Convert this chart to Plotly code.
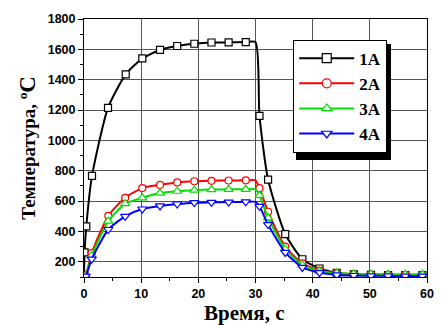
import plotly.graph_objects as go

# ---- data ----
t_1A = [0.1, 0.4, 1.4, 4.2, 7.3, 10.2, 13.3, 16.3, 19.3, 22.3, 25.3, 28.3,
        30.7, 32.2, 35.2, 38.2, 41.2, 44.2, 47.2, 50.2, 53.2, 56.2, 59.2]
T_1A = [262, 433, 766, 1215, 1435, 1540, 1596, 1622, 1637, 1645, 1646, 1648,
        1162, 742, 383, 217, 156, 128, 117, 114, 113, 112, 112]

t_n = [0.3, 1.35, 4.25, 7.2, 10.2, 13.3, 16.3, 19.3, 22.3, 25.3, 28.3,
       30.7, 32.2, 35.2, 38.2, 41.2, 44.2, 47.2, 50.2, 53.2, 56.2, 59.2]
T_2A = [110, 257, 503, 622, 686, 707, 723, 731, 734, 736, 737,
        685, 530, 300, 190, 142, 124, 117, 115, 114, 114, 114]
T_3A = [108, 240, 468, 583, 622, 653, 665, 672, 676, 678, 678,
        638, 490, 285, 180, 138, 126, 121, 119, 118, 118, 118]
T_4A = [105, 218, 413, 500, 548, 568, 581, 590, 592, 594, 595,
        566, 445, 262, 163, 129, 114, 110, 108, 107, 106, 106]

t_start, T_start = 0.0, 100   # curve start
t_off = 30.0                   # heating switched off (corner of each curve)

names = ["1A", "2A", "3A", "4A"]
colors = ["#000000", "#ff0000", "#00e000", "#0000ff"]
symbols = ["square", "circle", "triangle-up", "triangle-down"]
series = [(t_1A, T_1A), (t_n, T_2A), (t_n, T_3A), (t_n, T_4A)]

fig = go.Figure()

for (tx, ty), name, col, sym in zip(series, names, colors, symbols):
    plateau = max(ty)
    lx, ly = [t_start], [T_start]
    for a, b in zip(tx, ty):
        if a > t_off and lx[-1] < t_off:
            lx.append(t_off)
            ly.append(plateau)
        lx.append(a)
        ly.append(b)
    fig.add_trace(go.Scatter(x=lx, y=ly, mode="lines",
                             line=dict(color=col, width=2, shape="spline", smoothing=0.6),
                             showlegend=False, hoverinfo="skip"))
    fig.add_trace(go.Scatter(x=tx, y=ty, mode="markers",
                             marker=dict(symbol=sym, size=7 if sym in ("square", "circle") else 8,
                                         color="white", line=dict(color=col, width=1.2)),
                             showlegend=False))
    fig.add_trace(go.Scatter(x=[None], y=[None], mode="lines+markers", name=name,
                             line=dict(color=col, width=2),
                             marker=dict(symbol=sym, size=9, color="white",
                                         line=dict(color=col, width=1.2))))

tickfont = dict(family="Liberation Sans", size=12.5, color="black", weight="bold")
axis_common = dict(showline=True, linecolor="black", linewidth=1, mirror=True,
                   ticks="outside", ticklen=5, tickwidth=1, tickcolor="black",
                   showgrid=True, gridcolor="#555555", gridwidth=1.1,
                   zeroline=False, tickfont=tickfont)

fig.update_xaxes(range=[0, 60], dtick=10, tick0=0,
                 minor=dict(dtick=5, ticks="outside", ticklen=3, tickcolor="black", showgrid=False),
                 **axis_common)
fig.update_yaxes(range=[100, 1800], dtick=200, tick0=0,
                 minor=dict(dtick=100, ticks="outside", ticklen=3, tickcolor="black", showgrid=False),
                 **axis_common)

fig.add_annotation(text="Время, с", xref="paper", yref="paper", x=0.468, y=-0.14,
                   xanchor="center", yanchor="middle", showarrow=False,
                   font=dict(family="Liberation Serif", size=21, color="black", weight="bold"))
fig.add_annotation(text="Температура, <sup>o</sup><span style='font-size:23px'>C</span>",
                   xref="paper", yref="paper", x=-0.167, y=0.50, textangle=-90,
                   xanchor="center", yanchor="middle", showarrow=False,
                   font=dict(family="Liberation Serif", size=19, color="black", weight="bold"))

# legend shadow (4 px offset down-right)
fig.add_shape(type="rect", xref="paper", yref="paper", x0=0.618, x1=0.895, y0=0.4535, y1=0.903,
              fillcolor="black", line=dict(width=0), layer="above")

fig.update_layout(
    width=442, height=325,
    margin=dict(l=84, r=8, t=19, b=48),
    paper_bgcolor="white", plot_bgcolor="white",
    legend=dict(x=0.61, y=0.92, xanchor="left", yanchor="top",
                bgcolor="white", bordercolor="black", borderwidth=1,
                font=dict(family="Liberation Serif", size=17, color="black", weight="bold"),
                tracegroupgap=0, itemwidth=55),
)

fig.write_html("out.html", post_script="document.body.style.margin='0';",
               config={"displayModeBar": False})
